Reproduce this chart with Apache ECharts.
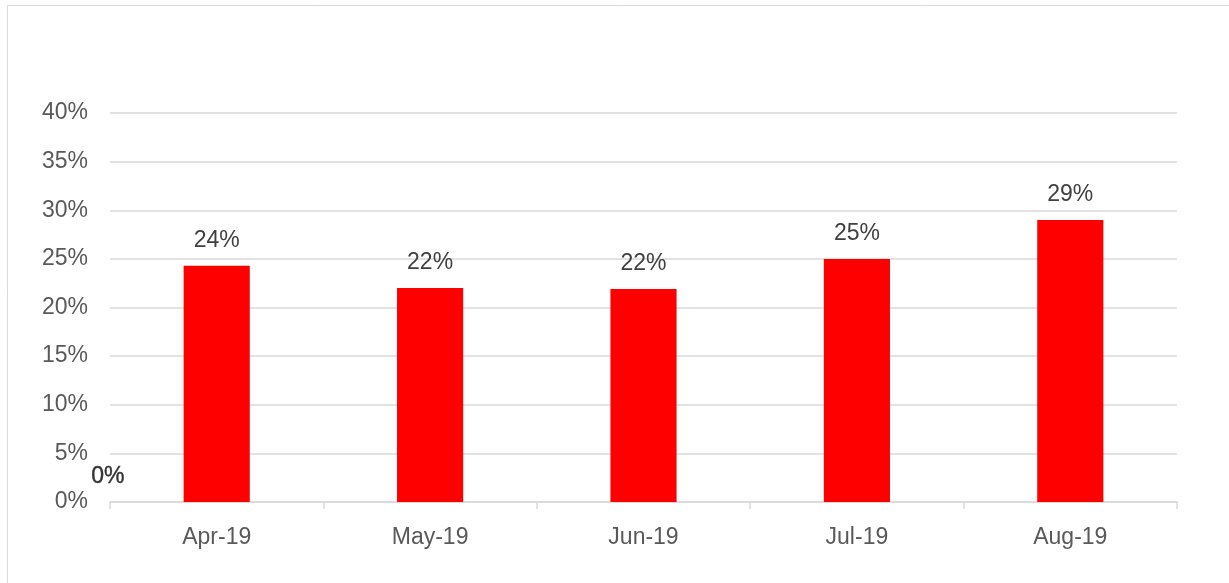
<!DOCTYPE html>
<html>
<head>
<meta charset="utf-8">
<script src="https://cdn.jsdelivr.net/npm/echarts@6/dist/echarts.min.js"></script>
<style>
  html, body { margin: 0; padding: 0; background: #fff; }
  #chart { width: 1229px; height: 583px; }
</style>
</head>
<body>
<div id="chart"></div>
<script>
const months = ["Apr-19", "May-19", "Jun-19", "Jul-19", "Aug-19"];
const shares = [24.3, 22.0, 21.9, 25.0, 29.0];
const yTicks = [0, 5, 10, 15, 20, 25, 30, 35, 40];

const chart = echarts.init(document.getElementById("chart"));
const font = "'Liberation Sans', Arial, sans-serif";

chart.setOption({
  animation: false,
  grid: { left: 110, right: 52, top: 113, bottom: 81 },
  // outer frame and stray label from the original
  graphic: [
    {
      type: "rect",
      shape: { x: 7.5, y: 5.5, width: 1240, height: 600 },
      style: { fill: "none", stroke: "#d9d9d9", lineWidth: 1 },
      silent: true
    },
    {
      type: "text",
      left: 91,
      top: 465,
      style: { text: "0%", fill: "#333333", font: "23px " + font, stroke: "#333333", lineWidth: 0.4 }
    }
  ],
  xAxis: {
    type: "category",
    data: months,
    axisLine: { lineStyle: { color: "#d9d9d9", width: 1.5 } },
    axisTick: { show: true, length: 7, lineStyle: { color: "#d9d9d9", width: 1.5 } },
    axisLabel: { color: "#595959", fontSize: 23, fontFamily: font, margin: 24 }
  },
  yAxis: {
    type: "value",
    min: yTicks[0],
    max: yTicks[yTicks.length - 1],
    interval: 5,
    axisLine: { show: false },
    axisTick: { show: false },
    splitLine: { lineStyle: { color: "#d9d9d9", width: 1.5 } },
    axisLabel: {
      color: "#595959",
      fontSize: 23,
      fontFamily: font,
      margin: 22,
      padding: [6, 0, 0, 0],
      formatter: "{value}%"
    }
  },
  series: [
    {
      type: "bar",
      data: shares,
      barWidth: "31%",
      itemStyle: { color: "#ff0000" },
      label: {
        show: true,
        position: "top",
        distance: 14,
        color: "#404040",
        fontSize: 23,
        fontFamily: font,
        formatter: (p) => Math.round(p.value) + "%"
      }
    }
  ]
});
</script>
</body>
</html>
